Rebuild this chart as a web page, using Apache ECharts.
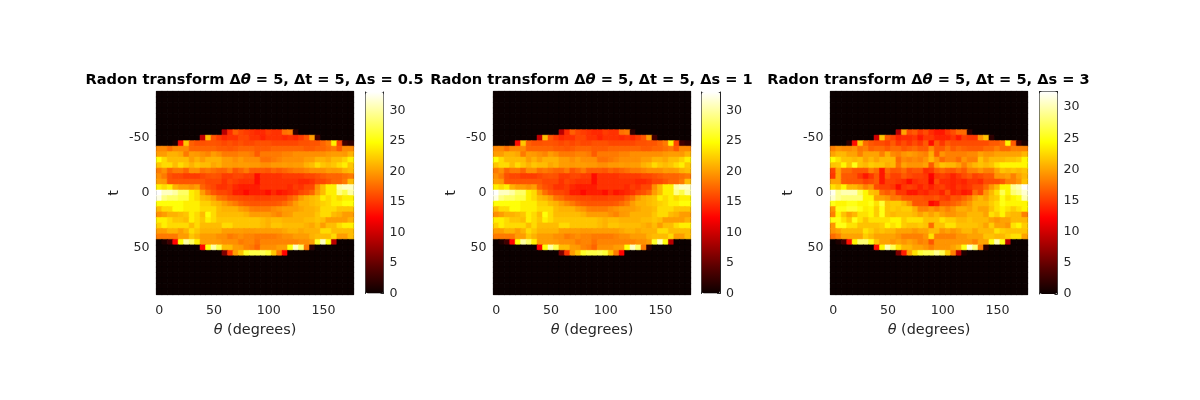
<!DOCTYPE html>
<html><head><meta charset="utf-8">
<style>html,body{margin:0;padding:0;background:#fff}#c{width:1200px;height:400px}</style>
<script src="https://cdn.jsdelivr.net/npm/echarts@6/dist/echarts.min.js"></script>
</head><body><div id="c"></div>
<script>
const thetaValues = [0,5,10,15,20,25,30,35,40,45,50,55,60,65,70,75,80,85,90,95,100,105,110,115,120,125,130,135,140,145,150,155,160,165,170,175];
const tValues = [-90,-85,-80,-75,-70,-65,-60,-55,-50,-45,-40,-35,-30,-25,-20,-15,-10,-5,0,5,10,15,20,25,30,35,40,45,50,55,60,65,70,75,80,85,90];
const thetaTicks = [0,50,100,150];
const tTicks = [-50,0,50];
const colorbarMax = [33,33,32.5];

// rows t = -55 ... 55, columns theta = 0 ... 175 (rows outside are zero)
const rowsDs05 = [
[0,0,0,0,0,0,0,0,0,0,0,0,9,14.5,17,15.8,15.3,14.8,14.3,14.3,15.3,14.8,14.8,17.8,18.3,2,0,0,0,0,0,0,0,0,0,0],
[0,0,0,0,0,0,0,0,9.5,21.5,16.5,15.3,14.3,14.8,14.8,15.8,15.8,14.8,14.8,14,14.8,14.8,14.8,14.3,14.8,14.3,15.3,16.5,20,3,0,0,0,0,0,0],
[0,0,0,1,13,22,17,16.3,16.3,16.5,16.5,16.3,15.8,16.3,15.8,16.3,15.8,15.8,16.3,16.3,16.3,15.8,15.8,15.8,15.8,15.8,16.3,16.3,16.5,16.5,17.3,18.3,24,15.8,3,2],
[19,19,17.8,19,19,19,17.3,17.3,17.3,17.3,17.3,16.8,16.8,16.5,16.8,17.3,17.3,17.3,16.8,16.8,16.8,17.3,17.3,17.3,17.3,17.3,17.3,16.8,16.8,17.3,17.3,17.8,18.3,16.8,19,19],
[20,20,21,21,20.5,18.3,20,19.8,19.3,18.8,20,19.3,18.3,18.3,18.3,18.8,18.8,18.3,16.8,18.3,18.3,18.3,18.3,18.8,18.8,19.3,19.3,19.3,19.3,19.3,19.3,19.8,20,20,19.8,21],
[25,23,21.5,21.5,21.5,21.5,20,21,20,21,21,21,20,20,19.3,20,19.3,19.3,19.3,17.8,17.8,18.3,18.8,19.3,19.3,19.3,19.3,20,20,21,21,20.5,21.5,21.5,22.5,24],
[22,23,23,21.5,23,22,21,22,21.5,21.5,20.5,21,20,20,19.8,20,20,19.8,19.8,19.3,19.3,19.8,19.8,20,19.8,20,20,21,21.5,23,22,21.5,22,23,24,22],
[18.3,19.3,17.3,18.3,18.3,17.3,19.3,19.3,17.8,18.3,17.8,17.3,17.3,18.3,16.5,17.3,18.3,16.8,16.8,16.8,16.5,17.3,16.8,17.3,17.8,18.3,18.3,18.8,19.3,19.3,19.3,20,19.8,20,21,21.5],
[19.3,18.3,16.3,15.8,15.8,15.3,15.3,15.3,15.8,16.3,16.5,16.3,15.3,15.3,15.8,15.8,15.3,15.3,13,14.8,14.8,14.8,14.8,15.3,15.3,15.3,15.3,15.8,15.8,16.3,16.8,17.3,17.3,17.3,17.8,18.3],
[20,19.8,16.5,16.5,16.5,16.5,16.5,16.5,16.5,15.8,15.8,15.8,14.8,15.8,15.3,14.8,14.8,14.8,13,14.8,14.8,14.8,14.8,14.8,14.8,14.8,14.3,14.3,14.8,15.8,15.8,16.5,17.3,17.3,18.3,21.5],
[24,23,24,21,20,20,19.3,20,17.3,16.3,15.8,14.8,14.8,15.3,14.3,13.8,13.8,13.8,13.8,14.8,14.8,14.8,14.8,14.8,14.3,15.3,14.8,15.8,15.8,19.3,21.5,24,24,30,31,31],
[33,31,31,30,28,28,24,23,20,17.8,16.5,15.8,15.8,15.3,13.8,13.8,12.8,13.8,13.8,13.8,13,14.3,13.3,13.8,14.3,14.8,15.8,16.3,17.3,20,21.5,24,24,29,27,30],
[32,29,28,28,27,27,24,23,21.5,21,20,18,17.5,16.5,16.3,16,15.8,15.8,15.5,15.5,15.5,15.8,15.8,15.8,17,18,20,21,21.5,22,24,23,24,23,24,24],
[25,25,25,25,25,24,24,24,22.5,22.5,21.5,21,20,19,18.3,17.3,16.8,16.5,16.5,16.5,16.5,16.5,16.8,17.5,18.5,20,21,21,21.5,22,22.5,23,24,24,25,25],
[21.5,23,23,25,25,24,24,24,23,23,23,21.5,21,21,21,20,19.5,18.5,18.3,18.3,18.3,19,19.5,20,20,20,20.5,21,21,21.5,23,23,23,22,22,22],
[19.3,20,21,21,21.5,22,24,23,21.5,25,23,21.5,21.5,21.5,21.5,21.5,21,20,20,20,20,19.3,18.8,19.8,20,21,21,21,21,22,23,23,21.5,21,20,20],
[24,24,23,22,22,21.5,24,23,22,24,23,22,22,22,22,22,22,22,22,21.5,21,21.5,21.5,21,21,21,21,21.5,21.5,22,21.5,20,20,20,20,21],
[22.5,24,23,23,23,23,21.5,23,21.5,21.5,21.5,21.5,23,23,22,22,22,22,22,21.5,21,22,22,21.5,21.5,21.5,21.5,21,20.5,21.5,20,21.5,21.5,23,24,24],
[20,20,21,21,20,21,23,22,21,21,21,21,20,20,20,20,19.8,19.8,20,20,20,20,20,20.5,21,21,20.5,21,21,21,23,23,21.5,21.5,21.5,21.5],
[18.3,18.3,18.3,18.3,20,20,22,21,20,20,20,19.3,19.3,18.3,18.8,19.3,18.8,18.8,18.3,18.3,18.3,18.3,18.8,19.3,19.3,20,20,20,21,21.5,21.5,21.5,23,20,20,21.5],
[0,1,3,12.5,25,30,28,24,20,20,20,19.8,19.3,19.3,19.3,18.3,18.8,18.8,17.8,18.8,18.8,18.8,18.8,18.8,18.8,18.8,19.3,19.3,20,26,31,25,9,0,0,0],
[0,0,0,0,0,0,0,0,12.5,25,30,27,21.5,21.5,20,19.8,18.8,18.3,17.3,19.3,19.3,19.3,20,20,25,31,28,18.3,2,0,0,0,0,0,0,0],
[0,0,0,0,0,0,0,0,0,0,0,0,6,15,20,22,26,27,27,27.5,26.5,22,18.3,12.5,0,0,0,0,0,0,0,0,0,0,0,0]
];
const rowsDs1 = rowsDs05; // indistinguishable from the first panel at this resolution
const rowsDs3 = [
[0,0,0,0,0,0,0,0,0,0,0,0,9,20,15.8,16.5,14.8,15.8,14.3,13.3,13.3,14.8,15.8,17.3,17.3,2,0,0,0,0,0,0,0,0,0,0],
[0,0,0,0,0,0,0,0,10,21.5,16.5,15.3,13.8,14.3,14.3,14.8,13.3,14.8,14.8,13.8,13.8,13.8,14.8,13.3,15.3,14.8,14.8,19.3,21.5,2,0,0,0,0,0,0],
[0,0,0,2,12.8,22,17.3,16.3,15.8,15.8,15.3,16.5,14.8,15.8,14.8,15.8,14.8,16.5,12.8,16.5,14.8,16.5,15.8,15.8,15.8,15.8,15.8,15.8,15.8,16.5,16.5,17.3,24,16.5,3,1],
[18.3,19.3,18.8,18.8,19.3,17.8,18.3,16.8,17.3,17.3,16.5,17.3,17.3,16.3,16.8,17.3,16.5,16.5,18.8,16.5,16.5,17.8,16.5,17.3,16.8,16.5,16.5,16.5,17.3,17.3,18.3,17.3,17.3,18.3,18.3,18.3],
[20,21,21,20,20,18.3,20,20,20,18.3,20.5,18.8,18.3,19.3,19.8,19.3,18.8,18.3,20.5,16.5,19.3,18.3,18.3,18.3,18.3,18.8,18.8,20,19.3,19.3,20,20,20,20,20,21],
[24.5,23,21.5,21.5,21,21.5,20,21,20,21,21,21,17.3,18.8,18.3,18.8,18.3,19.3,21,19.3,17.3,18.3,18.3,17.3,19.3,18.3,18.3,21.5,20,21,21,21,21.5,21.5,22,24],
[21.5,21.8,24,21.5,25,21.5,21,22,21.5,21.5,20.5,21,17.8,20,19.3,19.3,19.3,20,16.5,20,21.5,21,21,20,18.3,20,21,21.5,21,21.5,23,24,24,24,24,24],
[15.3,20,17.3,17.3,16.3,16.3,16.3,18.3,17.3,13.3,17.3,16.3,16.5,17.3,15.8,16.3,16.3,14.3,14.8,16.5,17.3,16.5,16.3,17.3,16.5,18.3,18.3,19.3,18.3,18.3,20,21.5,21,21.5,21,21.5],
[14.8,20,16.5,16.5,16.3,14.8,13.3,14.8,16.5,13.3,16.5,15.3,15.3,16.5,15.8,15.3,15.3,14.8,12.3,14.8,15.3,14.8,13.8,14.8,15.8,16.5,15.3,15.8,16.5,16.5,19.3,19.3,19.8,18.3,20,21],
[20,20,16.5,16.3,16.3,16.3,15.3,15.8,16.5,13.3,15.3,15.3,14.8,14.3,12.8,14.3,14.8,14.8,11.8,15.8,14.3,14.3,13.8,14.3,13.8,14.8,14.8,14.3,15.8,15.8,15.8,16.5,18.3,18.3,19.3,21.5],
[23,22,24,21,21,20,18.3,19.3,15.8,15.3,15.3,14.8,12.8,14.8,15.3,14.8,13.8,14.8,13.8,14.8,15.3,14.3,13.8,14.8,14.3,14.8,15.8,15.8,17.3,19.3,21,24,24,29,30,32.5],
[32,29,30,30,30,27,24,21.5,21,17.3,16.5,17.3,14.8,14.8,13.3,13.3,14.3,13.8,14.8,14.8,13.8,15.8,13.8,14.3,13.3,13.8,17.3,15.8,19.3,21,23,27,24,28,29,31],
[31,29,28,28,28,28,24,24,20,20,19.3,17.8,18,16.5,16.3,16.3,16.3,15.8,15.8,16.3,15.3,14.8,16.3,16,17,18,20,21,20,21.5,22,25,23,24,25,30],
[25,24,24,25,25,24,24,25,23,26,21.5,22,22,21,19.3,16.3,16.3,16.3,12.5,13.5,16.3,16.3,16.8,17.5,18.5,19.5,21,21,21,22,23,25,24,24,24,24],
[19.3,25,25,26,26,25,23.5,24,22,25,21.5,22,21.5,22,22,20.5,18.3,18.3,19.3,18.3,19.3,18.3,19.3,20.5,20.5,20,21,20,20,21.5,23,24,23,22,23,24],
[18.3,24,21.5,20,21,23,23,24,22,25,21.5,21,21.5,21.5,21.5,21,20,21,20,21,20,19.3,19.3,20,20,21,21,21,20,23,22,24,21.5,21,21,18.3],
[25,25,23,21.5,25,23,21.5,23,23,23,23,24,24,22,23,23,23,21.5,21.5,21.5,23,22,22,21,21,21.5,21,21,21,20,19.3,20,20,21,21,21],
[19.3,25,25,23,23,21.5,21.5,21.5,21.5,22,24,23,24,22,21.5,21.5,22,21.5,17.3,21.5,21.5,23,23,21.5,21.5,21.5,21.5,21,20,22,20,20,19.3,23,24,22],
[19.3,20,21,21,21,21,23,22,21,21.5,21,21,20,20,20,19.3,20,20,21,21,19.3,20,19.3,20,21,21,20,21,21,21,23,22,21.5,21.5,21.5,21.5],
[17.3,18.3,20,20,20,20,22,21,20,20,20,20,19.3,18.3,18.3,18.3,18.3,19.3,23,18.3,18.3,18.3,18.3,19.3,19.3,20,20,20,21.5,21.5,21,21,22,23,23,20],
[0,1,3,13,24,28,28,25,21.5,20,20,19.3,20,19.3,20,19.3,18.3,18.8,16.3,19.3,19.3,19.3,19.3,19.3,19.3,19.3,18.3,20,20,25,30,25,9,0,0,0],
[0,0,0,0,0,0,0,0,13,24,30,27,23,21,21,20,20,19.3,18.3,19.3,19.3,19.3,20,21,25,31,28,18.3,2,0,0,0,0,0,0,0],
[0,0,0,0,0,0,0,0,0,0,0,0,6,13.5,20,23,26,27,27,29,27,22,18.3,9,1,0,0,0,0,0,0,0,0,0,0,0]
];
const panelRows = [rowsDs05, rowsDs1, rowsDs3];
const panelTitles = ['0.5','1','3'];

const hot = ['#0b0000','#550000','#aa0000','#ff0000','#ff5500','#ffaa00','#ffff00','#ffff80','#ffffff'];
const ink = '#262626';
const font = 'DejaVu Sans';
const firstT = tValues.indexOf(-55);

const plots = [
 {l:156.5,w:197,cb:365.5,cbw:18,cbt:92,cbh:201.5},
 {l:493.5,w:197,cb:701.5,cbw:18.5,cbt:92,cbh:201.5},
 {l:830.5,w:197,cb:1039.5,cbw:18,cbt:91.5,cbh:202.5}
];
const plotTop = 91.5, plotHeight = 203;
const grid=[], xAxis=[], yAxis=[], series=[], visualMap=[], title=[];
const line = {show:true,onZero:false,lineStyle:{color:ink,width:1}};
const tick = {length:3,lineStyle:{color:ink,width:1}};
const lab = {color:ink,fontFamily:font,fontSize:12.6};

plots.forEach((p,i)=>{
  const g0 = grid.length;
  grid.push({left:p.l,top:plotTop,width:p.w,height:plotHeight,containLabel:false});
  grid.push({left:p.cb,top:p.cbt,width:p.cbw,height:p.cbh,containLabel:false});
  const isX = (idx,v)=>thetaTicks.includes(+v);
  const isT = (idx,v)=>tTicks.includes(+v);
  const xi = xAxis.length, yi = yAxis.length;
  xAxis.push({type:'category',gridIndex:g0,position:'bottom',data:thetaValues,axisLine:line,
    axisTick:{...tick,alignWithLabel:true,interval:idx=>thetaTicks.includes(thetaValues[idx])},
    axisLabel:{...lab,margin:10,interval:isX},
    name:'{i|θ} (degrees)',nameLocation:'middle',nameGap:29,
    nameTextStyle:{color:ink,fontFamily:font,fontSize:14.4,rich:{i:{fontStyle:'italic',fontFamily:font,fontSize:14.4,color:ink}}},
    splitLine:{show:false}});
  xAxis.push({type:'category',gridIndex:g0,position:'top',data:thetaValues,axisLine:line,
    axisTick:{...tick,alignWithLabel:true,interval:idx=>thetaTicks.includes(thetaValues[idx])},
    axisLabel:{show:false},splitLine:{show:false}});
  yAxis.push({type:'category',gridIndex:g0,position:'left',inverse:true,data:tValues,axisLine:line,
    axisTick:{...tick,alignWithLabel:true,interval:idx=>tTicks.includes(tValues[idx])},
    axisLabel:{...lab,margin:7,interval:isT},
    name:'t',nameLocation:'middle',nameGap:35,nameRotate:90,
    nameTextStyle:{color:ink,fontFamily:font,fontSize:14.4},
    splitLine:{show:false}});
  yAxis.push({type:'category',gridIndex:g0,position:'right',inverse:true,data:tValues,axisLine:line,
    axisTick:{...tick,alignWithLabel:true,interval:idx=>tTicks.includes(tValues[idx])},
    axisLabel:{show:false},splitLine:{show:false}});
  // colour bar axes
  const cx = xAxis.length, cy = yAxis.length;
  xAxis.push({type:'value',gridIndex:g0+1,min:0,max:1,show:false});
  xAxis.push({type:'value',gridIndex:g0+1,min:0,max:1,position:'top',show:true,axisLabel:{show:false},axisTick:{show:false},axisLine:line,splitLine:{show:false}});
  yAxis.push({type:'value',gridIndex:g0+1,min:0,max:colorbarMax[i],interval:5,position:'right',
    axisLine:line,axisTick:{...tick,inside:true},axisLabel:{...lab,margin:6,showMaxLabel:false},splitLine:{show:false}});
  yAxis.push({type:'value',gridIndex:g0+1,min:0,max:colorbarMax[i],interval:5,position:'left',
    axisLine:line,axisTick:{show:false},axisLabel:{show:false},splitLine:{show:false}});

  const data=[];
  tValues.forEach((t,r)=>thetaValues.forEach((th,c)=>{
    const row = panelRows[i][r-firstT];
    const v = row?row[c]:0;
    const col = echarts.color.lerp(v/colorbarMax[i],hot);
    data.push({value:[c,r,v],itemStyle:{borderColor:col,borderWidth:0.5}});
  }));
  const si = series.length;
  series.push({type:'heatmap',xAxisIndex:xi,yAxisIndex:yi,data:data,progressive:0,animation:false,
    emphasis:{disabled:true}});
  series.push({type:'line',xAxisIndex:cx,yAxisIndex:cy,data:[],silent:true});
  visualMap.push({type:'continuous',seriesIndex:si,min:0,max:colorbarMax[i],inRange:{color:hot},
    left:p.cb,top:p.cbt,itemWidth:p.cbw,itemHeight:p.cbh,padding:0,calculable:false,realtime:false,hoverLink:false,
    textStyle:{fontSize:0},z:1});
  title.push({text:`{b|Radon transform Δ}{ib|θ}{b| = 5, Δt = 5, Δs = ${panelTitles[i]}}`,
    left:p.l+p.w/2-5.5,top:68,textAlign:'center',
    textStyle:{rich:{b:{fontFamily:font,fontWeight:'bold',fontSize:14.6,color:'#000'},ib:{fontFamily:font,fontWeight:'bold',fontStyle:'italic',fontSize:14.6,color:'#000'}}}});
});

const chart = echarts.init(document.getElementById('c'),null,{renderer:'canvas'});
chart.setOption({animation:false,backgroundColor:'#fff',title,grid,xAxis,yAxis,series,visualMap,tooltip:{show:false}});
</script></body></html>
